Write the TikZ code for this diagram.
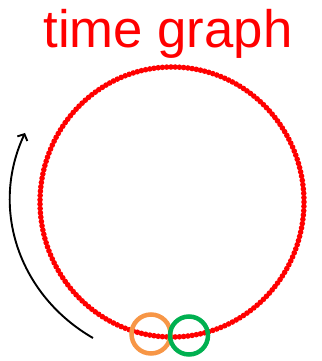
\documentclass[tikz,border=0pt]{standalone}
\usepackage{fontspec}
\setmainfont{Liberation Sans}
\usetikzlibrary{arrows.meta}
\definecolor{ringorange}{HTML}{F79646}
\definecolor{ringgreen}{HTML}{00B050}
\tikzstyle{title} = [text=red, font=\fontsize{52.7}{60}\selectfont, anchor=base, inner sep=0pt]
\tikzstyle{dot} = [fill=red]
\tikzstyle{ring} = [line width=4.5pt]
\tikzstyle{arrow} = [line width=1.9pt, -{Straight Barb[length=5pt,width=11pt]}]

\begin{document}
\begin{tikzpicture}[x=1pt, y=1pt]
    \useasboundingbox (0,0) rectangle (321,361);

    % Title
    \node (title) [title] at (168,313) {time graph};

    % Dotted time circle
    \foreach \i in {0,...,194}
        \fill[dot] ({172+132*cos(\i*24/13)},{159+135*sin(\i*24/13)}) circle (2.8);

    % Marker rings
    \draw [ring, ringorange] (151,27) circle (19.5);
    \draw [ring, ringgreen] (189,25.5) circle (19);

    % Arrow
    \coordinate (start) at (93,23);
    \coordinate (end) at (25,228);
    \draw [arrow] (start) to[out=150, in=-115] (end);

\end{tikzpicture}
\end{document}
